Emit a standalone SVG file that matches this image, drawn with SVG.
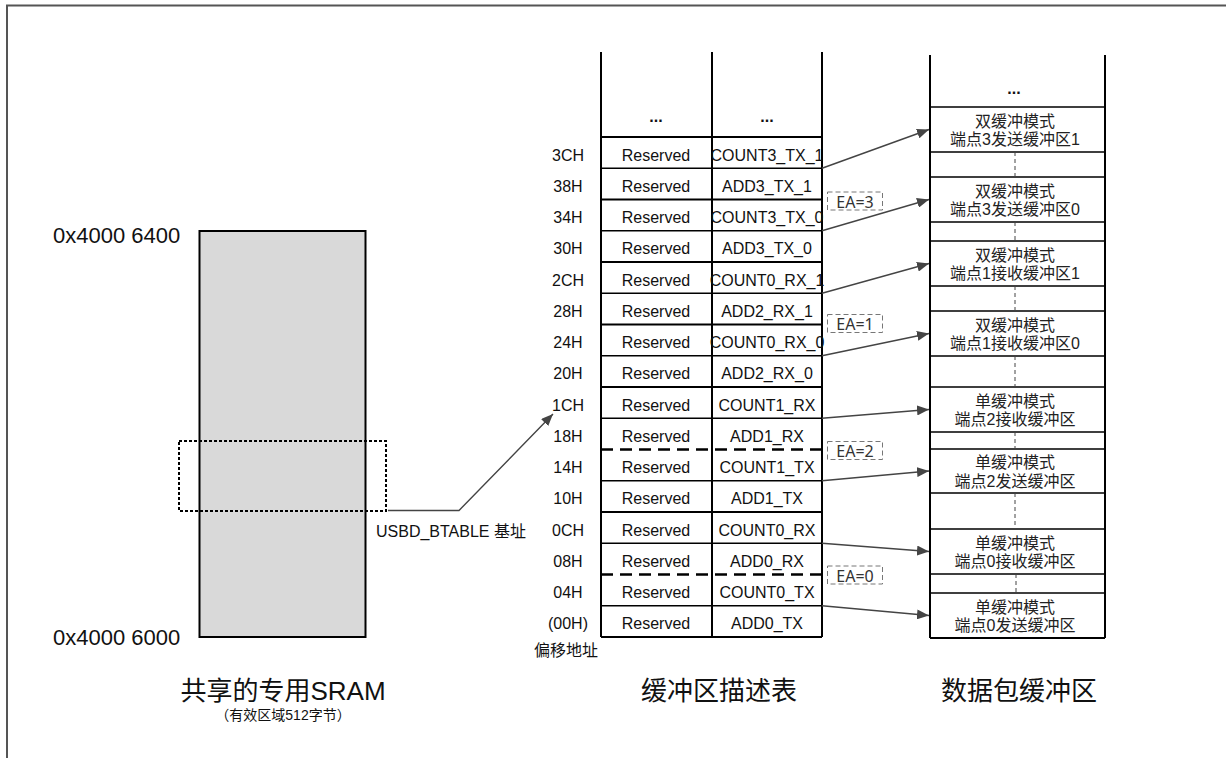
<svg xmlns="http://www.w3.org/2000/svg" width="1226" height="758" viewBox="0 0 1226 758">
<style>
text{font-family:"Liberation Sans","Noto Sans CJK SC",sans-serif;fill:#111}
.t16{font-size:16px}
.mid{text-anchor:middle}
.cjk{font-family:"Liberation Sans","Noto Sans CJK SC",sans-serif;font-size:16px;text-anchor:middle;fill:#222}
.thick{stroke:#000;stroke-width:2;fill:none}
.thin{stroke:#000;stroke-width:1.3;fill:none}
.dash{stroke:#000;stroke-width:2.5;stroke-dasharray:12 7;fill:none}
.gapd{stroke:#444;stroke-width:1;stroke-dasharray:4 3;fill:none}
.ea{fill:none;stroke:#777;stroke-width:1;stroke-dasharray:5 3}
.eat{font-family:"Noto Sans","Liberation Sans",sans-serif;font-size:16px;fill:#333;text-anchor:middle}
.arr{stroke:#444;stroke-width:1.4;fill:none;marker-end:url(#ah)}
.title{font-size:26px;text-anchor:middle}
</style>
<defs>
<marker id="ah" markerUnits="userSpaceOnUse" markerWidth="12" markerHeight="10" refX="12" refY="5" orient="auto">
<path d="M0,0 L12,5 L0,10 z" fill="#444"/>
</marker>
</defs>
<path id="frame" d="M7,758 V5.5 H1226" stroke="#555" stroke-width="2" fill="none"/>

<g id="sram">
<rect x="199.5" y="231" width="166" height="406" fill="#d9d9d9" stroke="#000" stroke-width="2"/>
<rect x="179" y="441" width="207" height="70" fill="none" stroke="#000" stroke-width="2" stroke-dasharray="3 2"/>
<text x="53" y="243" style="font-size:22px">0x4000 6400</text>
<text x="53" y="645" style="font-size:22px">0x4000 6000</text>
<text x="376" y="537" class="t16">USBD_BTABLE 基址</text>
</g>

<g id="bd-table">
<path class="thick" d="M601,52 V637 M712,52 V637 M822,52 V637"/>
<path class="thick" d="M601,137 H822 M601,199.5 H822 M601,262 H822 M601,324.5 H822 M601,387 H822 M601,512 H822 M601,637 H822"/>
<path class="dash" d="M601,449.5 H822 M601,574.5 H822"/>
<path class="thin" d="M601,168.25 H822 M601,230.75 H822 M601,293.25 H822 M601,355.75 H822 M601,418.25 H822 M601,480.75 H822 M601,543.25 H822 M601,605.75 H822"/>
<text x="656" y="122" class="t16 mid" style="font-weight:bold">...</text>
<text x="767" y="122" class="t16 mid" style="font-weight:bold">...</text>
<g class="t16 mid">
<text x="568" y="160.5">3CH</text><text x="656" y="160.5">Reserved</text><text x="767" y="160.5">COUNT3_TX_1</text>
<text x="568" y="191.75">38H</text><text x="656" y="191.75">Reserved</text><text x="767" y="191.75">ADD3_TX_1</text>
<text x="568" y="223">34H</text><text x="656" y="223">Reserved</text><text x="767" y="223">COUNT3_TX_0</text>
<text x="568" y="254.25">30H</text><text x="656" y="254.25">Reserved</text><text x="767" y="254.25">ADD3_TX_0</text>
<text x="568" y="285.5">2CH</text><text x="656" y="285.5">Reserved</text><text x="767" y="285.5">COUNT0_RX_1</text>
<text x="568" y="316.75">28H</text><text x="656" y="316.75">Reserved</text><text x="767" y="316.75">ADD2_RX_1</text>
<text x="568" y="348">24H</text><text x="656" y="348">Reserved</text><text x="767" y="348">COUNT0_RX_0</text>
<text x="568" y="378.5">20H</text><text x="656" y="378.5">Reserved</text><text x="767" y="379.25">ADD2_RX_0</text>
<text x="568" y="410.5">1CH</text><text x="656" y="410.5">Reserved</text><text x="767" y="410.5">COUNT1_RX</text>
<text x="568" y="441.75">18H</text><text x="656" y="441.75">Reserved</text><text x="767" y="441.75">ADD1_RX</text>
<text x="568" y="473">14H</text><text x="656" y="473">Reserved</text><text x="767" y="473">COUNT1_TX</text>
<text x="568" y="504.25">10H</text><text x="656" y="504.25">Reserved</text><text x="767" y="504.25">ADD1_TX</text>
<text x="568" y="535.5">0CH</text><text x="656" y="535.5">Reserved</text><text x="767" y="535.5">COUNT0_RX</text>
<text x="568" y="566.75">08H</text><text x="656" y="566.75">Reserved</text><text x="767" y="566.75">ADD0_RX</text>
<text x="568" y="598">04H</text><text x="656" y="598">Reserved</text><text x="767" y="598">COUNT0_TX</text>
<text x="568" y="629.25">(00H)</text><text x="656" y="629.25">Reserved</text><text x="767" y="629.25">ADD0_TX</text>
</g>
<text x="534" y="656" class="t16">偏移地址</text>
</g>

<g id="ea-labels">
<rect class="ea" x="827.5" y="192" width="55" height="18"/><text class="eat" x="855" y="207.5">EA=3</text>
<rect class="ea" x="827.5" y="314.5" width="55" height="18"/><text class="eat" x="855" y="330">EA=1</text>
<rect class="ea" x="827.5" y="441.5" width="55" height="18"/><text class="eat" x="855" y="457">EA=2</text>
<rect class="ea" x="827.5" y="566" width="55" height="18"/><text class="eat" x="855" y="581.5">EA=0</text>
</g>

<g id="packet-buffers">
<path class="thick" d="M930,55 V638 M1105,55 V638 M930,638 H1105"/>
<path stroke="#000" stroke-width="1.5" fill="none" d="M930,107 H1105 M930,152 H1105 M930,177 H1105 M930,222 H1105 M930,241 H1105 M930,286 H1105 M930,311 H1105 M930,356 H1105 M930,387 H1105 M930,432 H1105 M930,449 H1105 M930,493 H1105 M930,529 H1105 M930,574 H1105 M930,593 H1105"/>
<path class="gapd" d="M1015,152 V177 M1015,222 V241 M1015,286 V311 M1015,356 V387 M1015,432 V449 M1015,493 V529 M1016,574 V593"/>
<text x="1014" y="94" class="t16 mid" style="font-weight:bold">...</text>
<g id="b1"><text class="cjk" x="1015" y="126.5">双缓冲模式</text><text class="cjk" x="1015" y="145">端点3发送缓冲区1</text></g>
<g id="b2"><text class="cjk" x="1015" y="196.5">双缓冲模式</text><text class="cjk" x="1015" y="215">端点3发送缓冲区0</text></g>
<g id="b3"><text class="cjk" x="1015" y="260.5">双缓冲模式</text><text class="cjk" x="1015" y="279">端点1接收缓冲区1</text></g>
<g id="b4"><text class="cjk" x="1015" y="330.5">双缓冲模式</text><text class="cjk" x="1015" y="349">端点1接收缓冲区0</text></g>
<g id="b5"><text class="cjk" x="1015" y="406.5">单缓冲模式</text><text class="cjk" x="1015" y="425">端点2接收缓冲区</text></g>
<g id="b6"><text class="cjk" x="1015" y="468">单缓冲模式</text><text class="cjk" x="1015" y="486.5">端点2发送缓冲区</text></g>
<g id="b7"><text class="cjk" x="1015" y="548.5">单缓冲模式</text><text class="cjk" x="1015" y="567">端点0接收缓冲区</text></g>
<g id="b8"><text class="cjk" x="1015" y="612.5">单缓冲模式</text><text class="cjk" x="1015" y="631">端点0发送缓冲区</text></g>
</g>

<g id="connectors">
<path class="arr" d="M388,510.5 H459 L553,414"/>
<path class="arr" d="M822,168.25 L929,129.5"/>
<path class="arr" d="M822,230.75 L929,199.5"/>
<path class="arr" d="M822,293.25 L929,263.5"/>
<path class="arr" d="M822,355.75 L929,333.5"/>
<path class="arr" d="M822,418.25 L929,409.5"/>
<path class="arr" d="M822,480.75 L929,471"/>
<path class="arr" d="M822,543.25 L929,551.5"/>
<path class="arr" d="M822,605.75 L929,615.5"/>
</g>

<g id="titles">
<text x="283" y="700" class="title">共享的专用SRAM</text>
<text x="283" y="720" class="mid" style="font-size:14px">（有效区域512字节）</text>
<text x="719" y="700" class="title">缓冲区描述表</text>
<text x="1019" y="700" class="title">数据包缓冲区</text>
</g>
</svg>
